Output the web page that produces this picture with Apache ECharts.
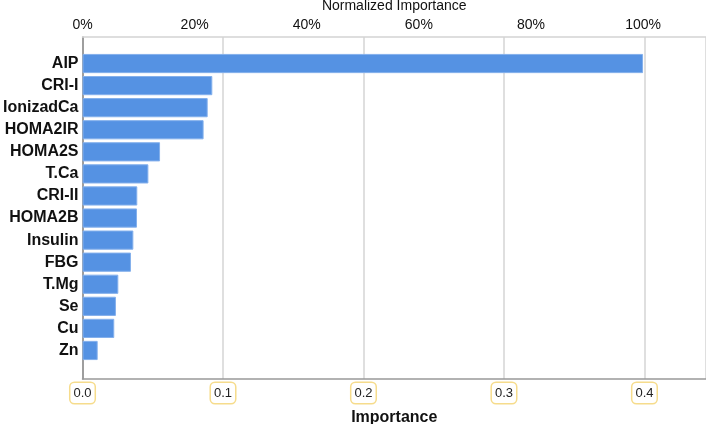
<!DOCTYPE html>
<html>
<head>
<meta charset="utf-8">
<script src="https://cdn.jsdelivr.net/npm/echarts@6/dist/echarts.min.js"></script>
<style>
  html, body { margin: 0; padding: 0; background: #fff; }
  #main { width: 706px; height: 424px; }
</style>
</head>
<body>
<div id="main"></div>
<script>
  // variables, most important first
  var variables = ['AIP', 'CRI-I', 'IonizadCa', 'HOMA2IR', 'HOMA2S', 'T.Ca', 'CRI-II',
    'HOMA2B', 'Insulin', 'FBG', 'T.Mg', 'Se', 'Cu', 'Zn'];
  var importance = [0.399, 0.0924, 0.0891, 0.0862, 0.0552, 0.0469, 0.039,
    0.0388, 0.0362, 0.0345, 0.0255, 0.0238, 0.0226, 0.0108];

  var xMax = 0.4438;               // axis runs past the right edge of the picture
  var pctMax = xMax / importance[0] * 100;

  var myChart = echarts.init(document.getElementById('main'));

  var font = 'Liberation Sans, Arial, sans-serif';

  var option = {
    animation: false,
    textStyle: { fontFamily: font },
    grid: [
      // bars
      { left: 82.5, right: 0, top: 52.5, bottom: 62.5, outerBoundsMode: 'none', containLabel: false },
      // frame with the two axes
      { left: 82.5, right: 0, top: 37, bottom: 45, outerBoundsMode: 'none', containLabel: false }
    ],
    xAxis: [
      {
        gridIndex: 0, type: 'value', min: 0, max: xMax, show: false
      },
      {
        gridIndex: 1, type: 'value', position: 'bottom', min: 0, max: xMax, interval: 0.1,
        name: 'Importance', nameLocation: 'middle', nameGap: 24,
        nameTextStyle: { fontSize: 16, fontWeight: 'bold', color: '#111', fontFamily: font },
        axisLine: { lineStyle: { color: '#999', width: 1.5 } },
        axisTick: { show: false },
        splitLine: { lineStyle: { color: '#d4d4d4', width: 1.5 } },
        axisLabel: {
          showMaxLabel: false, margin: 4, fontSize: 13, color: '#222',
          backgroundColor: '#fff', borderColor: '#f6dc8c', borderWidth: 1.5,
          borderRadius: 4, padding: [4, 3, 3, 3],
          formatter: function (v) { return v.toFixed(1); }
        }
      },
      {
        gridIndex: 1, type: 'value', position: 'top', min: 0, max: pctMax, interval: 20,
        name: 'Normalized Importance', nameLocation: 'middle', nameGap: 24,
        nameTextStyle: { fontSize: 14, color: '#111', fontFamily: font },
        axisLine: { lineStyle: { color: '#d4d4d4', width: 1.5 } },
        axisTick: { show: false },
        splitLine: { show: false },
        axisLabel: { showMaxLabel: false, margin: 5, fontSize: 14, color: '#111', formatter: '{value}%' }
      }
    ],
    yAxis: [
      {
        gridIndex: 0, type: 'category', inverse: true, data: variables,
        axisLine: { show: false }, axisTick: { show: false },
        axisLabel: { margin: 4, fontSize: 16, fontWeight: 'bold', color: '#111' }
      },
      {
        gridIndex: 1, type: 'value', min: 0, max: 1,
        axisLine: { show: true, lineStyle: { color: '#888', width: 1.5 } },
        axisTick: { show: false }, axisLabel: { show: false }, splitLine: { show: false }
      }
    ],
    series: [
      {
        type: 'bar', xAxisIndex: 0, yAxisIndex: 0,
        data: importance,
        barCategoryGap: '13%',
        itemStyle: { color: '#5592e3', borderColor: '#84b0ec', borderWidth: 1 },
        z: 5
      }
    ]
  };

  myChart.setOption(option);
</script>
</body>
</html>
